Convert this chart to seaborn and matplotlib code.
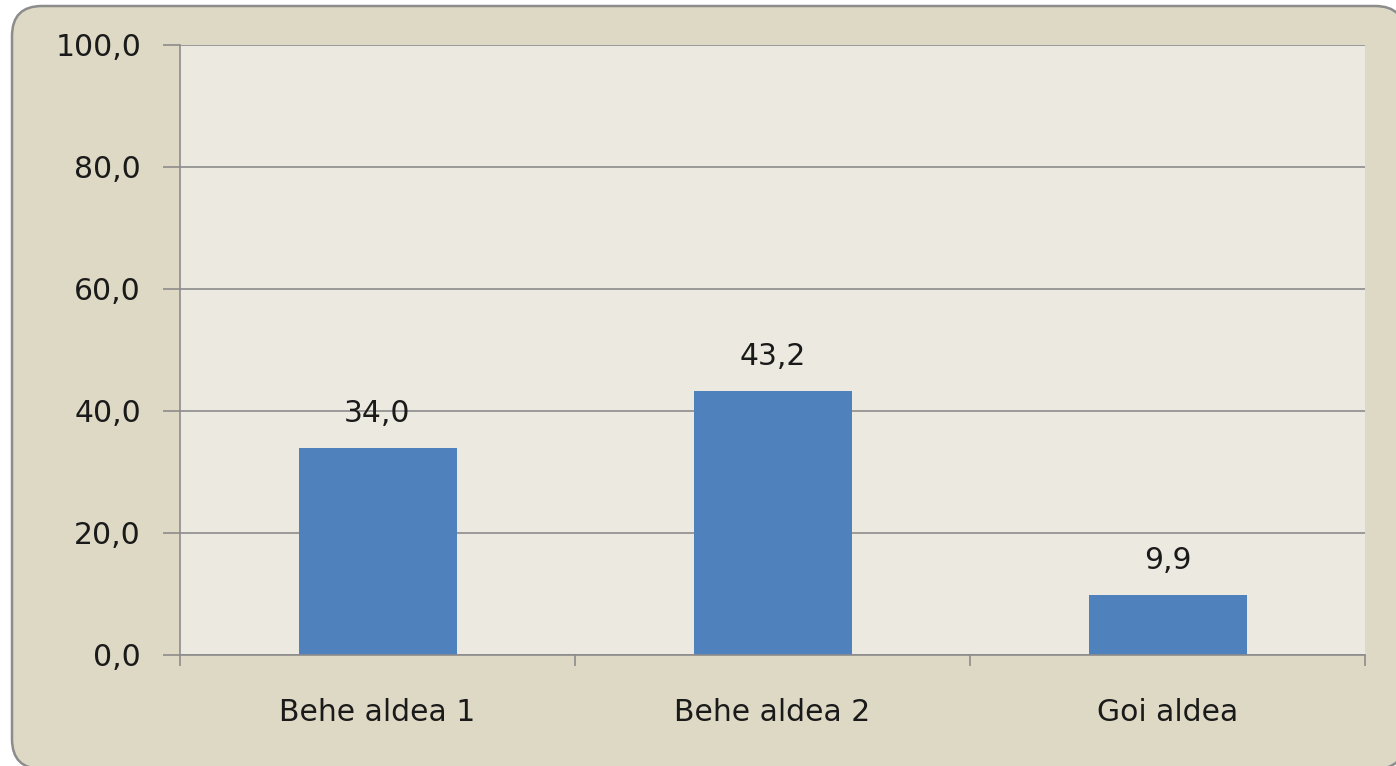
import matplotlib
matplotlib.use("Agg")
import matplotlib.pyplot as plt
import seaborn as sns
import pandas as pd
from matplotlib.patches import FancyBboxPatch
from matplotlib.ticker import FixedLocator

categories = ["Behe aldea 1", "Behe aldea 2", "Goi aldea"]
values = [34.0, 43.2, 9.9]
value_labels = ["34,0", "43,2", "9,9"]
yticks = [0, 20, 40, 60, 80, 100]
ytick_labels = ["0,0", "20,0", "40,0", "60,0", "80,0", "100,0"]

sns.set_theme(style="white")
plt.rcParams['font.family'] = ['DejaVu Sans']

FS = 21.5
fig = plt.figure(figsize=(13.96, 7.66), dpi=100)
fig.patch.set_facecolor("white")
# rounded outer frame (inches)
frame = FancyBboxPatch((0.12, -0.03), 13.93, 7.63,
                       boxstyle="round,pad=0,rounding_size=0.30",
                       transform=fig.dpi_scale_trans, facecolor="#DDD9C4",
                       edgecolor="#8C8C8C", linewidth=1.8, zorder=-10)
fig.patches.append(frame)

ax = fig.add_axes([180/1396, (766-655)/766, (1365-180)/1396, (655-45)/766])
ax.set_zorder(5)
ax.set_facecolor("#ECEAE0")

df = pd.DataFrame({"cat": categories, "val": values})
sns.barplot(data=df, x="cat", y="val", color="#4F81BD", width=0.4,
            saturation=1, ax=ax, edgecolor="none")

ax.set_xlim(-0.5, 2.5)
ax.set_ylim(0, 100)
ax.set_yticks(yticks)
ax.set_yticklabels(ytick_labels, fontsize=FS, color="#1a1a1a")
ax.yaxis.grid(True, color="#8C8C8C", linewidth=1.2)
ax.set_axisbelow(True)
ax.set_xlabel("")
ax.set_ylabel("")

ax.tick_params(axis="x", which="major", length=0, pad=31, labelsize=FS, labelcolor="#1a1a1a")
ax.xaxis.set_minor_locator(FixedLocator([-0.5, 0.5, 1.5, 2.5]))
ax.tick_params(axis="x", which="minor", length=8, width=1.2, color="#8C8C8C", bottom=True)
ax.tick_params(axis="y", which="major", length=12, width=1.2, color="#8C8C8C", left=True, pad=16)

for s in ["top", "right"]:
    ax.spines[s].set_visible(False)
for s in ["left", "bottom"]:
    ax.spines[s].set_visible(True)
    ax.spines[s].set_color("#8C8C8C")
    ax.spines[s].set_linewidth(1.2)

for i, (v, lab) in enumerate(zip(values, value_labels)):
    ax.annotate(lab, (i, v), xytext=(0, 20), textcoords="offset pixels",
                ha="center", va="bottom", fontsize=FS, color="#1a1a1a")

fig.savefig("out.png", dpi=100, facecolor=fig.get_facecolor())
